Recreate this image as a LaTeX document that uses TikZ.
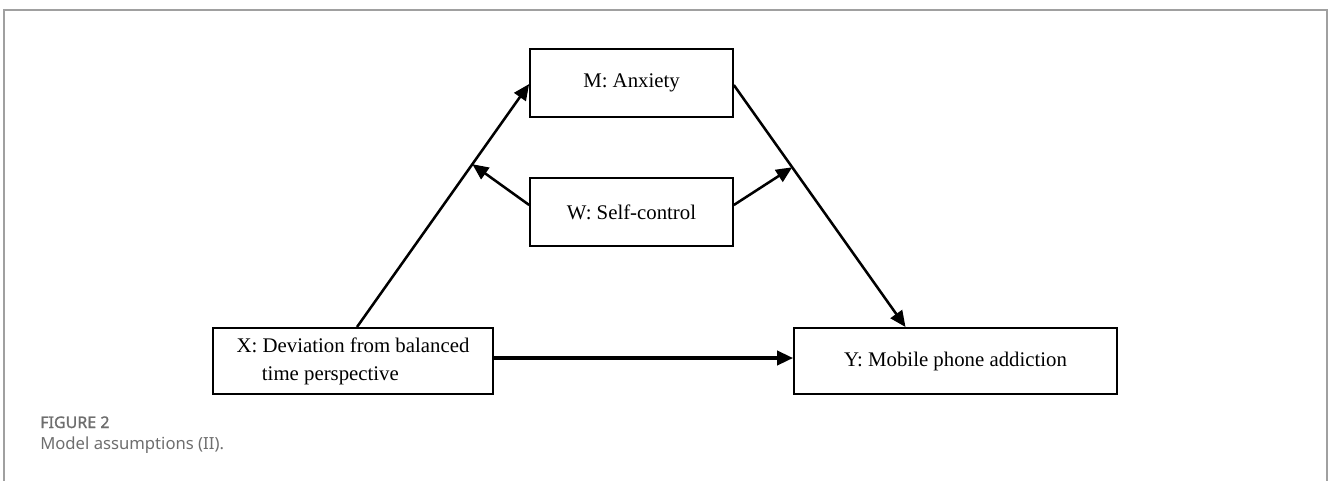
\documentclass[tikz,border=0pt]{standalone}
\usepackage{fontspec}
\setmainfont{Liberation Serif}
\newfontfamily\capfont{Noto Sans}
\newfontfamily\capbold[FakeBold=1.2]{Noto Sans}
\usetikzlibrary{arrows.meta,calc}
\definecolor{framegray}{HTML}{A0A0A0}
\definecolor{capgray}{HTML}{6E6E6E}
\tikzset{
  varbox/.style={draw=black, line width=1.5pt, inner sep=0pt, font=\fontsize{15.6pt}{21pt}\selectfont},
  path/.style={line width=1.9pt, -{Triangle[length=12pt,width=10.5pt]}},
  mainpath/.style={line width=2.7pt, -{Triangle[length=12pt,width=10.5pt]}},
}
\begin{document}
\begin{tikzpicture}[x=0.75pt,y=-0.75pt]
\useasboundingbox (0,0) rectangle (1328,480);
% frame
\draw[framegray, line width=1.5pt] (4,482) -- (4,10) -- (1327,10) -- (1327,482);
% boxes
\node[varbox, minimum width=152pt, minimum height=51pt] (M) at (631.5,83) {M: Anxiety};
\node[varbox, minimum width=152pt, minimum height=51pt] (W) at (631.5,212) {W: Self-control};
\node[varbox, minimum width=210pt, minimum height=49.5pt, align=left] (X) at (353,361) {X: Deviation from balanced\\\hspace*{19pt}time perspective};
\node[varbox, minimum width=242pt, minimum height=49.5pt] (Y) at (955.5,361) {Y: Mobile phone addiction};
% connectors
\coordinate (xs) at ($(X.north)+(4,0)$);
\coordinate (ye) at ($(Y.north)+(-50,0)$);
\coordinate (mw) at ($(M.west)+(0,1)$);
\coordinate (me) at ($(M.east)+(0,2)$);
\coordinate (p1) at ($(xs)!0.67!(mw)$);
\coordinate (p2) at ($(me)!0.34!(ye)$);
\draw[path] (xs) -- (mw);
\draw[path] (me) -- (ye);
\draw[path] ($(W.west)+(0,-7)$) -- (p1);
\draw[path] ($(W.east)+(0,-7)$) -- (p2);
\draw[mainpath] ($(X.east)+(0,-3)$) -- ($(Y.west)+(0,-3)$);
% caption
\node[anchor=base west, inner sep=0pt, text=capgray, font=\capbold\fontsize{12pt}{14pt}\selectfont] (fig) at (40,428) {FIGURE 2};
\node[anchor=base west, inner sep=0pt, text=capgray, font=\capfont\fontsize{12.5pt}{16pt}\selectfont] (cap) at (40,449) {Model assumptions (II).};
\end{tikzpicture}
\end{document}
